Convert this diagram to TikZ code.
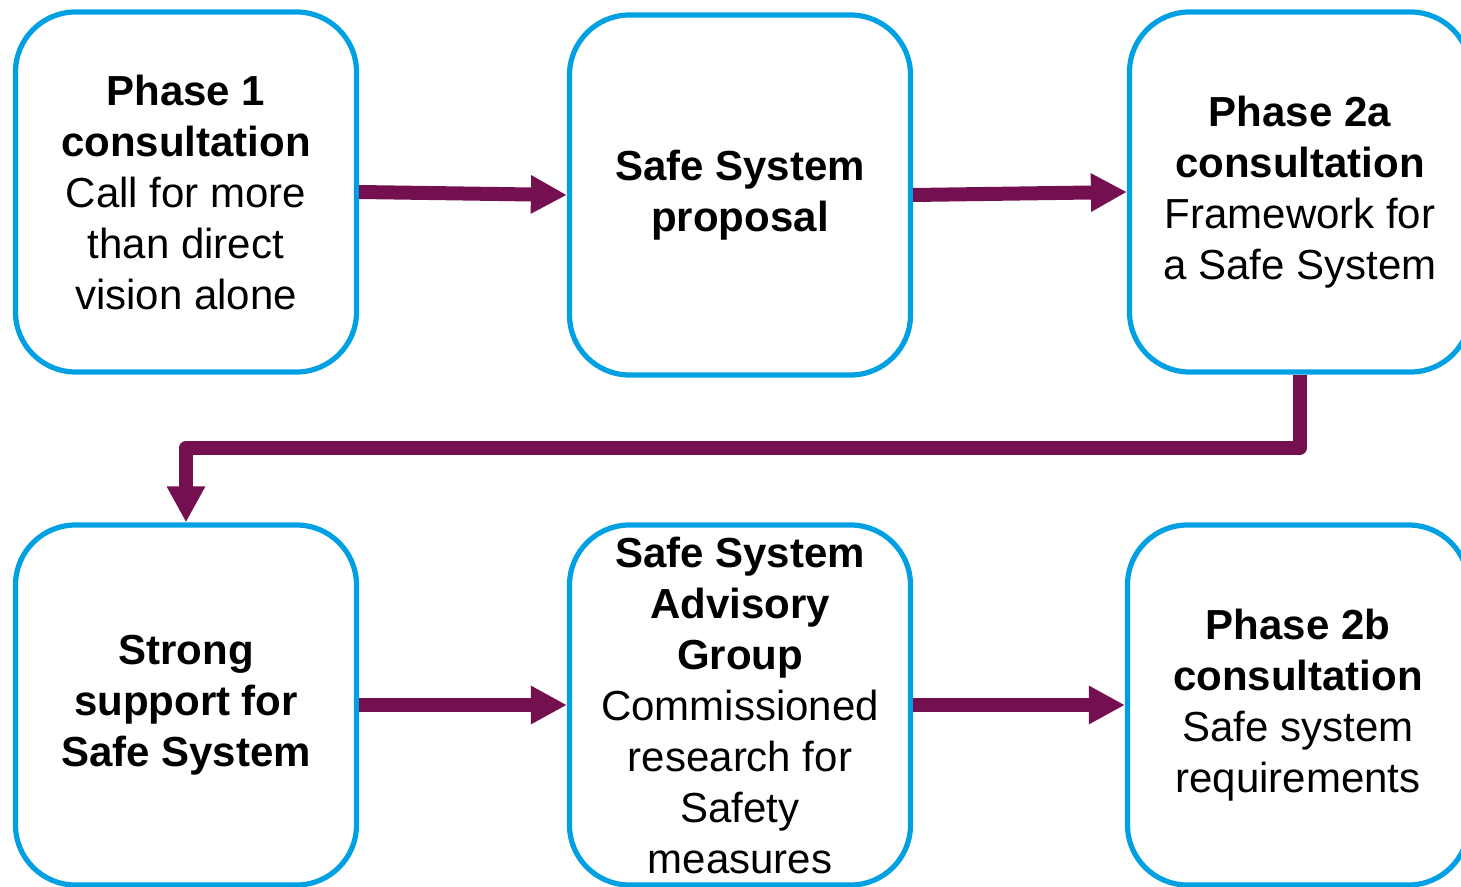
\documentclass[tikz,border=0pt]{standalone}
\usepackage{fontspec}
\setmainfont{Liberation Sans}
\usetikzlibrary{arrows.meta}
\definecolor{boxblue}{HTML}{00A0E3}
\definecolor{flowpurple}{HTML}{741050}

\begin{document}
\begin{tikzpicture}[x=0.5pt,y=-0.5pt,
    phase/.style={draw=boxblue,line width=2.6pt,rounded corners=30pt,fill=white,minimum width=170.5pt,minimum height=180pt,inner sep=0pt,align=center,font=\fontsize{21}{25.5}\selectfont},
    flow/.style={draw=flowpurple,line width=7pt,line join=round,-{Triangle[length=18pt,width=18pt]}}]
      \clip (0,0) rectangle (1461,887);
      \useasboundingbox (0,0) rectangle (1461,887);
      \node[phase](p1) at (186,192){\textbf{Phase 1}\\\textbf{consultation}\\Call for more\\than direct\\vision alone};
      \node[phase](proposal) at (740,195){\textbf{Safe System}\\\textbf{proposal}};
      \node[phase](p2a) at (1300,192){\textbf{Phase 2a}\\\textbf{consultation}\\Framework for\\a Safe System};
      \node[phase](support) at (186,705){\textbf{Strong}\\\textbf{support for}\\\textbf{Safe System}};
      \node[phase](advisory) at (740,705){\textbf{Safe System}\\\textbf{Advisory}\\\textbf{Group}\\Commissioned\\research for\\Safety\\measures};
      \node[phase](p2b) at (1298,705){\textbf{Phase 2b}\\\textbf{consultation}\\Safe system\\requirements};
      \draw[flow] (p1.east) -- (proposal.west);
      \draw[flow] (proposal.east) -- (p2a.west);
      \draw[flow] (p2a.south) -- ++(0,73) -| (support.north);
      \draw[flow] (support.east) -- (advisory.west);
      \draw[flow] (advisory.east) -- (p2b.west);
\end{tikzpicture}
\end{document}
